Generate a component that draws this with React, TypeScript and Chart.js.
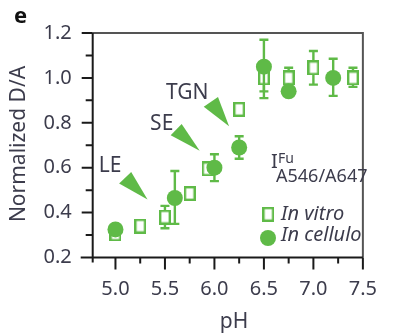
import React, { useEffect, useRef } from "react";
import { Chart, registerables } from "chart.js";
Chart.register(...registerables);

// ---- data ----
const vitroPH = [5.0, 5.25, 5.5, 5.75, 5.93, 6.25, 6.5, 6.75, 7.0, 7.4];
const vitroDA = [0.305, 0.34, 0.38, 0.485, 0.595, 0.86, 1.0, 1.0, 1.045, 1.0];
const vitroLow = [0.305, 0.34, 0.33, 0.485, 0.595, 0.86, 0.94, 0.95, 0.97, 0.96];
const vitroHigh = [0.305, 0.34, 0.43, 0.485, 0.595, 0.86, 1.06, 1.045, 1.12, 1.045];

const celluloPH = [5.0, 5.6, 6.0, 6.25, 6.5, 6.75, 7.2];
const celluloDA = [0.325, 0.465, 0.6, 0.69, 1.05, 0.94, 1.0];
const celluloLow = [0.325, 0.35, 0.54, 0.64, 0.91, 0.94, 0.92];
const celluloHigh = [0.325, 0.585, 0.66, 0.74, 1.17, 0.94, 1.085];

const xTicks = [5.0, 5.5, 6.0, 6.5, 7.0, 7.5];
const xMinorTicks = [5.25, 5.75, 6.25, 6.75, 7.25];
const yTicks = [0.2, 0.4, 0.6, 0.8, 1.0, 1.2];
const yMinorTicks = [0.3, 0.5, 0.7, 0.9, 1.1];

// compartment annotations (data units)
const compartments = ["LE", "SE", "TGN"];
const labelPH = [4.83, 5.35, 5.51];
const labelDA = [0.581, 0.77, 0.908];
const arrowTopPH = [5.159, 5.669, 6.036];
const arrowTopDA = [0.581, 0.795, 0.915];
const arrowLeftPH = [5.037, 5.558, 5.892];
const arrowLeftDA = [0.53, 0.744, 0.872];
const arrowTipPH = [5.324, 5.851, 6.148];
const arrowTipDA = [0.458, 0.676, 0.785];

const GREEN = "#5fba47";
const TEXT = "#3c3c4c";
const FONT = '"Noto Sans", "DejaVu Sans", sans-serif';

function makeSquare(): HTMLCanvasElement {
  const c = document.createElement("canvas");
  c.width = 12;
  c.height = 15;
  const g = c.getContext("2d")!;
  g.fillStyle = "#ffffff";
  g.fillRect(1, 1, 10, 13);
  g.strokeStyle = GREEN;
  g.lineWidth = 2.4;
  g.strokeRect(1.2, 1.2, 9.6, 12.6);
  return c;
}

export default function App() {
  const ref = useRef<HTMLCanvasElement>(null);
  useEffect(() => {
    document.body.style.margin = "0";
    const sq = makeSquare();
    const lows = [vitroLow, celluloLow];
    const highs = [vitroHigh, celluloHigh];

    const extras = {
      id: "extras",
      beforeDatasetDraw(chart: any, args: any) {
        const ctx = chart.ctx;
        const ys = chart.scales.y;
        const lo = lows[args.index];
        const hi = highs[args.index];
        ctx.save();
        ctx.strokeStyle = GREEN;
        ctx.lineWidth = 2.4;
        args.meta.data.forEach((pt: any, i: number) => {
          if (hi[i] - lo[i] < 0.001) return;
          const y1 = ys.getPixelForValue(lo[i]);
          const y2 = ys.getPixelForValue(hi[i]);
          ctx.beginPath();
          ctx.moveTo(pt.x, y1);
          ctx.lineTo(pt.x, y2);
          ctx.moveTo(pt.x - 4.5, y1);
          ctx.lineTo(pt.x + 4.5, y1);
          ctx.moveTo(pt.x - 4.5, y2);
          ctx.lineTo(pt.x + 4.5, y2);
          ctx.stroke();
        });
        ctx.restore();
      },
      beforeDatasetsDraw(chart: any) {
        const ctx = chart.ctx;
        const xs = chart.scales.x;
        const ys = chart.scales.y;
        ctx.save();
        ctx.fillStyle = GREEN;
        compartments.forEach((_, i) => {
          ctx.beginPath();
          ctx.moveTo(xs.getPixelForValue(arrowTopPH[i]), ys.getPixelForValue(arrowTopDA[i]));
          ctx.lineTo(xs.getPixelForValue(arrowLeftPH[i]), ys.getPixelForValue(arrowLeftDA[i]));
          ctx.lineTo(xs.getPixelForValue(arrowTipPH[i]), ys.getPixelForValue(arrowTipDA[i]));
          ctx.closePath();
          ctx.fill();
        });
        ctx.fillStyle = TEXT;
        ctx.font = `21px ${FONT}`;
        ctx.textAlign = "left";
        ctx.textBaseline = "alphabetic";
        compartments.forEach((name, i) => {
          ctx.fillText(name, xs.getPixelForValue(labelPH[i]), ys.getPixelForValue(labelDA[i]));
        });
        ctx.restore();
      },
      afterDraw(chart: any) {
        const ctx = chart.ctx;
        const a = chart.chartArea;
        const xs = chart.scales.x;
        const ys = chart.scales.y;
        ctx.save();
        // frame
        ctx.strokeStyle = "#555";
        ctx.lineWidth = 2;
        ctx.beginPath();
        ctx.moveTo(a.left, a.top);
        ctx.lineTo(a.right, a.top);
        ctx.lineTo(a.right, a.bottom);
        ctx.stroke();
        // axes
        ctx.strokeStyle = "#1a1a1a";
        ctx.lineWidth = 2;
        ctx.beginPath();
        ctx.moveTo(a.left, a.top);
        ctx.lineTo(a.left, a.bottom + 5);
        ctx.moveTo(a.left - 12, a.bottom);
        ctx.lineTo(a.right, a.bottom);
        yTicks.forEach((v) => {
          const y = ys.getPixelForValue(v);
          ctx.moveTo(a.left - 11, y);
          ctx.lineTo(a.left, y);
        });
        yMinorTicks.forEach((v) => {
          const y = ys.getPixelForValue(v);
          ctx.moveTo(a.left - 7, y);
          ctx.lineTo(a.left, y);
        });
        xTicks.forEach((v) => {
          const x = xs.getPixelForValue(v);
          ctx.moveTo(x, a.bottom);
          ctx.lineTo(x, a.bottom + 12);
        });
        xMinorTicks.forEach((v) => {
          const x = xs.getPixelForValue(v);
          ctx.moveTo(x, a.bottom);
          ctx.lineTo(x, a.bottom + 6);
        });
        ctx.stroke();

        // panel letter
        ctx.fillStyle = "#111";
        ctx.font = `bold 22px ${FONT}`;
        ctx.textAlign = "left";
        ctx.fillText("e", 14, 23);

        // axis titles
        ctx.fillStyle = TEXT;
        ctx.font = `21px ${FONT}`;
        ctx.textAlign = "center";
        ctx.fillText("pH", 234, 328);
        ctx.save();
        ctx.translate(25, 144);
        ctx.rotate(-Math.PI / 2);
        ctx.fillText("Normalized D/A", 0, 0);
        ctx.restore();

        // I^Fu_A546/A647
        ctx.textAlign = "left";
        ctx.font = `20px ${FONT}`;
        ctx.fillText("I", 271, 168);
        ctx.font = `14px ${FONT}`;
        ctx.fillText("Fu", 278, 163);
        ctx.font = `18px ${FONT}`;
        ctx.fillText("A546/A647", 276, 182);

        // legend
        ctx.drawImage(sq, 268.3 - sq.width / 2, 214.3 - sq.height / 2);
        ctx.fillStyle = GREEN;
        ctx.beginPath();
        ctx.arc(268, 238, 8, 0, Math.PI * 2);
        ctx.fill();
        ctx.fillStyle = TEXT;
        ctx.font = `italic 20px ${FONT}`;
        ctx.fillText("In vitro", 281, 220);
        ctx.fillText("In cellulo", 281, 241);
        ctx.restore();
      },
    };

    const tickFont = { family: FONT, size: 20 };
    const chart = new Chart(ref.current!, {
      type: "scatter",
      data: {
        datasets: [
          {
            label: "In vitro",
            data: vitroPH.map((x, i) => ({ x, y: vitroDA[i] })),
            pointStyle: sq as any,
            pointRadius: 7,
            order: 2,
          },
          {
            label: "In cellulo",
            data: celluloPH.map((x, i) => ({ x, y: celluloDA[i] })),
            pointStyle: "circle",
            pointRadius: 8,
            backgroundColor: GREEN,
            borderWidth: 0,
            order: 1,
          },
        ],
      },
      options: {
        animation: false,
        responsive: false,
        layout: { padding: { top: 28, right: 19, left: 0, bottom: 0 } },
        plugins: { legend: { display: false }, tooltip: { enabled: false } },
        scales: {
          x: {
            type: "linear",
            min: 4.77,
            max: 7.5,
            afterBuildTicks: (s: any) => {
              s.ticks = xTicks.map((v) => ({ value: v }));
            },
            afterFit: (s: any) => {
              s.height = 77.5;
            },
            ticks: {
              font: tickFont,
              color: TEXT,
              padding: 20,
              maxRotation: 0,
              autoSkip: false,
              callback: (v: any) => Number(v).toFixed(1),
            },
            grid: { display: false, drawTicks: false },
            border: { display: false },
          },
          y: {
            type: "linear",
            min: 0.2,
            max: 1.2,
            afterBuildTicks: (s: any) => {
              s.ticks = yTicks.map((v) => ({ value: v }));
            },
            afterFit: (s: any) => {
              s.width = 92.7;
            },
            ticks: {
              font: tickFont,
              color: TEXT,
              padding: 21,
              autoSkip: false,
              callback: (v: any) => Number(v).toFixed(1),
            },
            grid: { display: false, drawTicks: false },
            border: { display: false },
          },
        },
      },
      plugins: [extras],
    });
    return () => chart.destroy();
  }, []);
  return <canvas ref={ref} width={397} height={335} style={{ display: "block" }} />;
}
